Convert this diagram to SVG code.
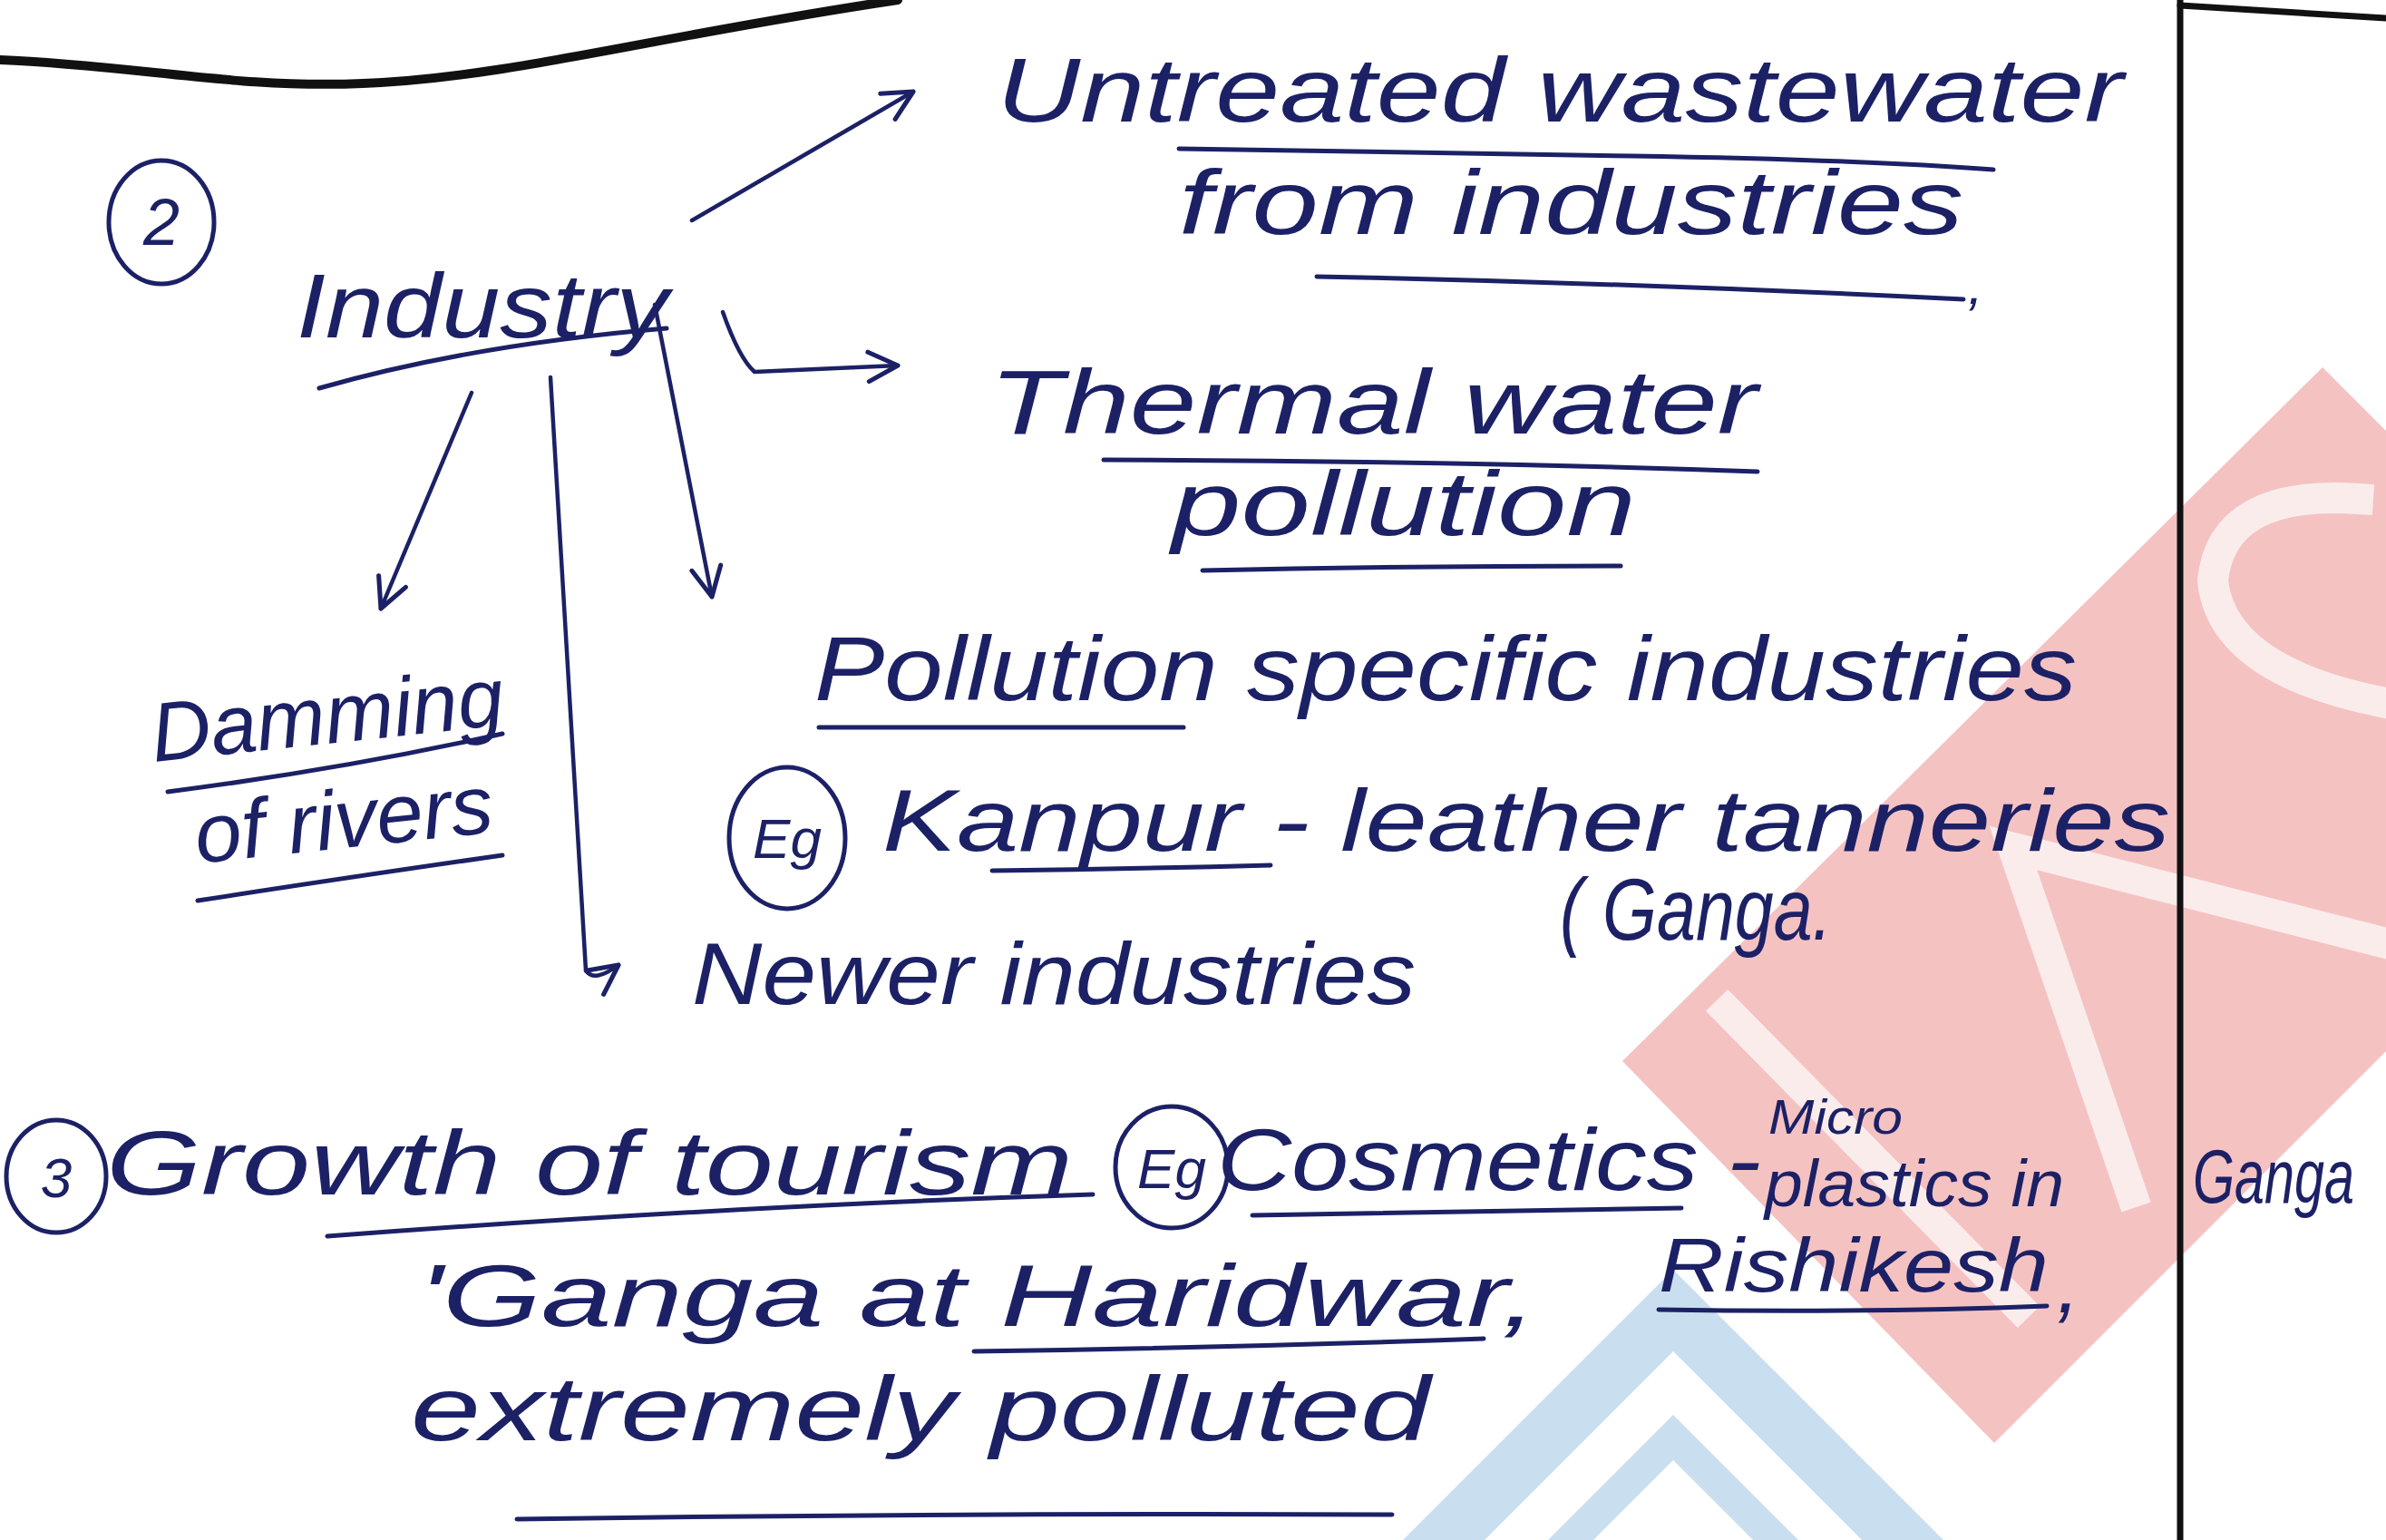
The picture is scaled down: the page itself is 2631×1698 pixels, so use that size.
<svg xmlns="http://www.w3.org/2000/svg" width="2631" height="1698" viewBox="0 0 2631 1698">
<style>
.t{font-family:"Liberation Sans","DejaVu Sans",sans-serif;font-style:italic;fill:#1c2166;}
.u{fill:none;stroke:#1c2166;stroke-width:5;stroke-linecap:round;}
.c{fill:none;stroke:#1c2166;stroke-width:4.5;stroke-linecap:round;stroke-linejoin:round;}
.rule{fill:none;stroke:#111;stroke-width:7;stroke-linecap:round;}
.wm{fill:none;stroke:#fbecec;stroke-width:34;stroke-linecap:square;stroke-linejoin:miter;}
</style>
<defs>
<marker id="ah" viewBox="0 0 20 20" refX="18" refY="10" markerWidth="9" markerHeight="9" markerUnits="strokeWidth" orient="auto">
<path d="M2,2 L18,10 L2,18" fill="none" stroke="#1c2166" stroke-width="2.5" stroke-linecap="round" stroke-linejoin="round"/>
</marker>
</defs>
<rect width="2631" height="1698" fill="#ffffff"/>
<!-- watermark -->
<g id="watermark">
<polygon points="1845,1400 1547,1698 1637,1698 1845,1490 2053,1698 2143,1698" fill="#c9dfef"/>
<polygon points="1845,1560 1707,1698 1757,1698 1845,1610 1933,1698 1983,1698" fill="#c9dfef"/>
<polygon points="2561,405 1789,1170 2199,1591 2973,817" fill="#f5c2c2"/>
<path class="wm" d="M1905,1115 L2225,1440"/>
<path class="wm" d="M2350,1315 L2220,935 L2631,1040"/>
<path class="wm" d="M2600,550 Q2450,540 2440,640 Q2450,740 2631,775"/>
</g>
<!-- page rules -->
<g id="page-rules">
<path class="rule" style="stroke-width:10" d="M0,66 C150,72 260,98 400,92 C560,86 720,40 990,0"/>
<path class="rule" d="M2404,0 L2404,1698"/>
<path class="rule" d="M2404,6 L2631,20"/>
</g>
<!-- connectors -->
<g id="connectors">
<path class="c" d="M763,243 L1007,101" marker-end="url(#ah)"/>
<path class="c" d="M797,344 Q815,395 832,410 L990,403" marker-end="url(#ah)"/>
<path class="c" d="M520,433 L420,671" marker-end="url(#ah)"/>
<path class="c" d="M607,416 L646,1070 Q655,1084 682,1064" marker-end="url(#ah)"/>
<path class="c" d="M722,336 L785,658" marker-end="url(#ah)"/>
</g>
<!-- nodes -->
<g id="num2">
<ellipse class="u" cx="178" cy="245" rx="58" ry="68"/>
<text class="t" x="178" y="270" font-size="72" text-anchor="middle">2</text>
</g>
<g id="industry">
<text class="t" x="327" y="372" font-size="100" textLength="410" lengthAdjust="spacingAndGlyphs">Industry</text>
<path class="u" d="M352,428 Q520,380 735,362"/>
</g>
<g id="untreated">
<text class="t" x="1099" y="134" font-size="100" textLength="1242" lengthAdjust="spacingAndGlyphs">Untreated wastewater</text>
<path class="u" d="M1300,164 Q1500,168 1800,172 Q2050,176 2198,187"/>
<text class="t" x="1300" y="258" font-size="100" textLength="865" lengthAdjust="spacingAndGlyphs">from industries</text>
<path class="u" d="M1452,305 Q1800,312 2165,330"/>
<text class="t" x="2170" y="335" font-size="60">,</text>
</g>
<g id="thermal">
<text class="t" x="1091" y="478" font-size="100" textLength="847" lengthAdjust="spacingAndGlyphs">Thermal water</text>
<path class="u" d="M1217,507 Q1600,508 1938,520"/>
<text class="t" x="1292" y="590" font-size="100" textLength="512" lengthAdjust="spacingAndGlyphs">pollution</text>
<path class="u" d="M1326,629 Q1550,624 1787,624"/>
</g>
<g id="damming">
<text class="t" x="170" y="840" font-size="92" textLength="390" lengthAdjust="spacingAndGlyphs" transform="rotate(-6 170 840)">Damming</text>
<path class="u" d="M185,873 Q380,848 554,809"/>
<text class="t" x="218" y="952" font-size="92" textLength="330" lengthAdjust="spacingAndGlyphs" transform="rotate(-6 218 952)">of rivers</text>
<path class="u" d="M218,993 Q400,965 554,943"/>
</g>
<g id="pollution-specific">
<text class="t" x="898" y="772" font-size="100" textLength="1392" lengthAdjust="spacingAndGlyphs">Pollution specific industries</text>
<path class="u" d="M903,802 L1305,802"/>
</g>
<g id="kanpur">
<ellipse class="u" cx="868" cy="924" rx="64" ry="78"/>
<text class="t" x="868" y="946" font-size="62" text-anchor="middle">Eg</text>
<text class="t" x="973" y="938" font-size="96" textLength="1420" lengthAdjust="spacingAndGlyphs">Kanpur - leather tanneries</text>
<path class="u" d="M1094,960 Q1250,958 1401,954"/>
<text class="t" x="1720" y="1036" font-size="96" textLength="300" lengthAdjust="spacingAndGlyphs">( Ganga.</text>
</g>
<g id="newer">
<text class="t" x="763" y="1107" font-size="96" textLength="798" lengthAdjust="spacingAndGlyphs">Newer industries</text>
</g>
<g id="tourism">
<ellipse class="u" cx="62" cy="1297" rx="55" ry="62"/>
<text class="t" x="62" y="1320" font-size="62" text-anchor="middle">3</text>
<text class="t" x="117" y="1317" font-size="100" textLength="1066" lengthAdjust="spacingAndGlyphs">Growth of tourism</text>
<path class="u" d="M361,1363 Q800,1330 1205,1317"/>
</g>
<g id="cosmetics">
<ellipse class="u" cx="1292" cy="1287" rx="62" ry="67"/>
<text class="t" x="1292" y="1310" font-size="62" text-anchor="middle">Eg</text>
<text class="t" x="1342" y="1312" font-size="96" textLength="600" lengthAdjust="spacingAndGlyphs">Cosmetics -</text>
<path class="u" d="M1381,1340 Q1600,1336 1854,1332"/>
<text class="t" x="1950" y="1250" font-size="54" textLength="148" lengthAdjust="spacingAndGlyphs">Micro</text>
<text class="t" x="1946" y="1330" font-size="72" textLength="330" lengthAdjust="spacingAndGlyphs">plastics in</text>
<text class="t" x="2418" y="1326" font-size="84" textLength="178" lengthAdjust="spacingAndGlyphs">Ganga</text>
</g>
<g id="ganga-polluted">
<text class="t" x="461" y="1462" font-size="96" textLength="1234" lengthAdjust="spacingAndGlyphs">'Ganga at Haridwar,</text>
<path class="u" d="M1074,1490 Q1350,1486 1636,1476"/>
<text class="t" x="1829" y="1424" font-size="84" textLength="430" lengthAdjust="spacingAndGlyphs">Rishikesh</text>
<path class="u" d="M1829,1444 Q2050,1448 2257,1440"/>
<text class="t" x="2268" y="1447" font-size="90">,</text>
<text class="t" x="453" y="1588" font-size="100" textLength="1124" lengthAdjust="spacingAndGlyphs">extremely polluted</text>
<path class="u" d="M570,1675 Q1050,1668 1535,1670"/>
</g>
</svg>
